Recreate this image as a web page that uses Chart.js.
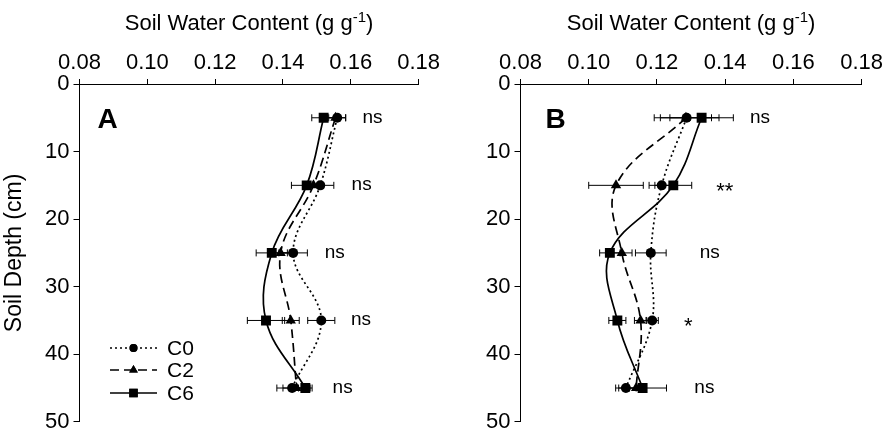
<!DOCTYPE html>
<html>
<head>
<meta charset="utf-8">
<script src="https://cdn.jsdelivr.net/npm/chart.js@4.4.1/dist/chart.umd.min.js"></script>
<style>
  html, body { margin: 0; padding: 0; background: #fff; }
  #wrap { position: relative; width: 886px; height: 439px; }
  canvas { position: absolute; top: 0; }
  #panelA { left: 0; }
  #panelB { left: 443px; }
</style>
</head>
<body>
<div id="wrap">
  <canvas id="panelA" width="443" height="439"></canvas>
  <canvas id="panelB" width="443" height="439"></canvas>
</div>
<script>
// depth of each sampling layer (cm)
const depths = [5, 15, 25, 35, 45];
const seriesNames = ['C0', 'C2', 'C6'];

// panel A – soil water content (g/g) and standard errors
const swcA_C0 = [0.156, 0.151, 0.143, 0.1513, 0.1427];
const swcA_C2 = [0.1555, 0.149, 0.1393, 0.1423, 0.144];
const swcA_C6 = [0.152, 0.147, 0.1367, 0.135, 0.1466];
const errA_C0 = [0.0025, 0.004, 0.0042, 0.004, 0.0045];
const errA_C2 = [0.003, 0.003, 0.003, 0.0025, 0.004];
const errA_C6 = [0.0035, 0.0045, 0.0046, 0.0055, 0.002];
const sigA  = ['ns', 'ns', 'ns', 'ns', 'ns'];
const sigAx = [0.1664, 0.1632, 0.1553, 0.163, 0.1576];

// panel B
const swcB_C0 = [0.1287, 0.1214, 0.1182, 0.1186, 0.1109];
const swcB_C2 = [0.1285, 0.108, 0.1097, 0.1152, 0.1139];
const swcB_C6 = [0.1331, 0.1248, 0.1062, 0.1084, 0.1158];
const errB_C0 = [0.0095, 0.0037, 0.0045, 0.0018, 0.003];
const errB_C2 = [0.0075, 0.008, 0.003, 0.0018, 0.002];
const errB_C6 = [0.0093, 0.0054, 0.003, 0.0025, 0.007];
const sigB  = ['ns', '**', 'ns', '*', 'ns'];
const sigBx = [0.1502, 0.1399, 0.1355, 0.1292, 0.1339];

const FONT = 'Liberation Sans, Arial, Helvetica, sans-serif';

const styles = [
  { dash: [2, 3], pointStyle: 'circle', radius: 5 },
  { dash: [9, 5], pointStyle: 'triangle', radius: 6 },
  { dash: [], pointStyle: 'rect', radius: 7 },
];

function toPoints(vals) {
  return vals.map((v, i) => ({ x: v, y: depths[i] }));
}

function makePanel(id, opts) {
  const datasets = opts.series.map((vals, k) => ({
    label: seriesNames[k],
    data: toPoints(vals),
    showLine: true,
    borderColor: '#000',
    backgroundColor: '#000',
    borderWidth: 1.7,
    borderDash: styles[k].dash,
    tension: 0.38,
    pointStyle: styles[k].pointStyle,
    pointRadius: styles[k].radius,
    pointBorderWidth: 0,
    pointBackgroundColor: '#000',
  }));

  const decor = {
    id: 'decor',
    beforeDatasetsDraw(chart) {
      // horizontal error bars
      const { ctx, scales: { x, y } } = chart;
      ctx.save();
      ctx.strokeStyle = '#000';
      ctx.lineWidth = 1;
      opts.series.forEach((vals, k) => {
        vals.forEach((v, i) => {
          const e = opts.errs[k][i];
          const py = y.getPixelForValue(depths[i]);
          const x0 = x.getPixelForValue(v - e);
          const x1 = x.getPixelForValue(v + e);
          ctx.beginPath();
          ctx.moveTo(x0, py); ctx.lineTo(x1, py);
          ctx.moveTo(x0, py - 3.5); ctx.lineTo(x0, py + 3.5);
          ctx.moveTo(x1, py - 3.5); ctx.lineTo(x1, py + 3.5);
          ctx.stroke();
        });
      });
      ctx.restore();
    },
    afterDraw(chart) {
      const { ctx, chartArea, scales: { x, y } } = chart;
      ctx.save();
      ctx.fillStyle = '#000';

      // top title with superscript
      const main = 'Soil Water Content (g g';
      const sup = '-1';
      const tail = ')';
      ctx.font = '22px ' + FONT;
      const wMain = ctx.measureText(main).width;
      const wTail = ctx.measureText(tail).width;
      ctx.font = '15px ' + FONT;
      const wSup = ctx.measureText(sup).width;
      const cx = (chartArea.left + chartArea.right) / 2;
      let tx = cx - (wMain + wSup + wTail) / 2;
      const ty = 30;
      ctx.textBaseline = 'alphabetic';
      ctx.textAlign = 'left';
      ctx.font = '22px ' + FONT;
      ctx.fillText(main, tx, ty);
      tx += wMain;
      ctx.font = '15px ' + FONT;
      ctx.fillText(sup, tx, ty - 8);
      tx += wSup;
      ctx.font = '22px ' + FONT;
      ctx.fillText(tail, tx, ty);

      // panel letter
      ctx.font = 'bold 28px ' + FONT;
      ctx.fillText(opts.letter, chartArea.left + opts.letterDx, 128);

      // significance labels
      ctx.textAlign = 'center';
      opts.sig.forEach((s, i) => {
        const px = x.getPixelForValue(opts.sigX[i]);
        const py = y.getPixelForValue(depths[i]);
        if (s.includes('*')) {
          ctx.font = '22px ' + FONT;
          ctx.fillText(s, px, py + 12.5);
        } else {
          ctx.font = '19px ' + FONT;
          ctx.fillText(s, px, py + 5);
        }
      });

      // legend
      if (opts.legend) {
        const lx0 = 110, lx1 = 157, rows = [348, 370, 393];
        seriesNames.forEach((name, k) => {
          const ly = rows[k];
          ctx.strokeStyle = '#000';
          ctx.lineWidth = 1.7;
          ctx.setLineDash(styles[k].dash);
          ctx.beginPath();
          ctx.moveTo(lx0, ly); ctx.lineTo(lx1, ly);
          ctx.stroke();
          ctx.setLineDash([]);
          Chart.helpers.drawPoint(ctx, {
            pointStyle: styles[k].pointStyle,
            radius: styles[k].radius - 1,
            borderWidth: 0,
            rotation: 0,
          }, (lx0 + lx1) / 2, ly);
          ctx.fill();
          ctx.font = '21px ' + FONT;
          ctx.textAlign = 'left';
          ctx.textBaseline = 'middle';
          ctx.fillText(name, 167, ly + 1);
        });
      }
      ctx.restore();
    },
  };

  return new Chart(document.getElementById(id), {
    type: 'scatter',
    data: { datasets },
    options: {
      responsive: false,
      animation: false,
      devicePixelRatio: 1,
      layout: { padding: { left: 0, top: 0, right: opts.padRight, bottom: 14 } },
      plugins: { legend: { display: false }, tooltip: { enabled: false } },
      scales: {
        x: {
          type: 'linear',
          position: 'top',
          min: 0.08,
          max: 0.18,
          ticks: {
            stepSize: 0.02,
            color: '#000',
            font: { family: FONT, size: 22 },
            padding: 3,
            maxRotation: 0,
            callback: (v) => v.toFixed(2),
          },
          grid: { drawOnChartArea: false, drawTicks: true, tickLength: 5, color: '#000' },
          border: { color: '#000', width: 1 },
          afterFit: (s) => { s.height = 84; },
        },
        y: {
          type: 'linear',
          reverse: true,
          min: 0,
          max: 50,
          ticks: {
            stepSize: 10,
            color: '#000',
            font: { family: FONT, size: 22 },
            padding: 4,
          },
          title: {
            display: opts.yTitle,
            text: 'Soil Depth (cm)',
            color: '#000',
            font: { family: FONT, size: 23 },
            padding: 1,
          },
          grid: { drawOnChartArea: false, drawTicks: true, tickLength: 6, color: '#000' },
          border: { color: '#000', width: 1 },
          afterFit: (s) => { s.width = opts.axisLeft; },
        },
      },
    },
    plugins: [decor],
  });
}

makePanel('panelA', {
  series: [swcA_C0, swcA_C2, swcA_C6],
  errs: [errA_C0, errA_C2, errA_C6],
  sig: sigA, sigX: sigAx,
  letter: 'A', letterDx: 18,
  legend: true, yTitle: true,
  axisLeft: 79.5, padRight: 21.5,
});

makePanel('panelB', {
  series: [swcB_C0, swcB_C2, swcB_C6],
  errs: [errB_C0, errB_C2, errB_C6],
  sig: sigB, sigX: sigBx,
  letter: 'B', letterDx: 25,
  legend: false, yTitle: false,
  axisLeft: 77.5, padRight: 24,
});
</script>
</body>
</html>
